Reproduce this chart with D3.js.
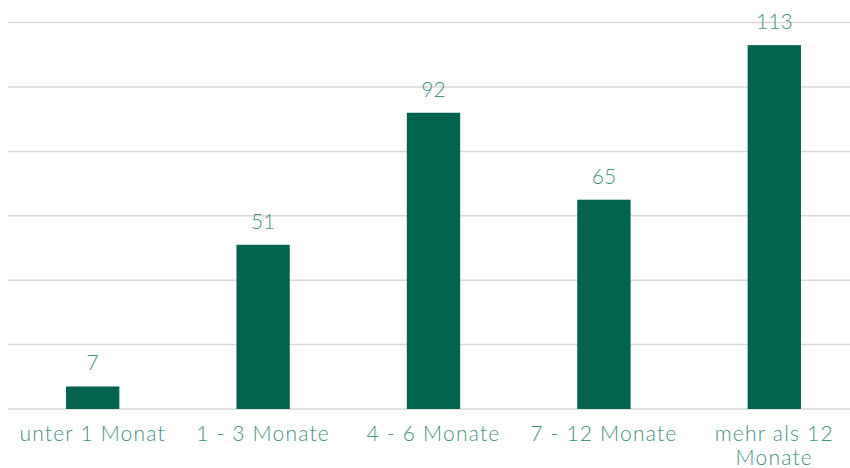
<!DOCTYPE html>
<html><head><meta charset="utf-8">
<script src="https://cdn.jsdelivr.net/npm/d3@7"></script>
<style>body{margin:0;background:#fff}svg{display:block}</style>
</head><body>
<svg id="c" width="850" height="468"></svg>
<script>
const categories = ["unter 1 Monat", "1 - 3 Monate", "4 - 6 Monate", "7 - 12 Monate", "mehr als 12 Monate"];
const values = [7, 51, 92, 65, 113];
const yTicks = [0, 20, 40, 60, 80, 100, 120];
const labelLines = [["unter 1 Monat"], ["1 - 3 Monate"], ["4 - 6 Monate"], ["7 - 12 Monate"], ["mehr als 12", "Monate"]];

const svg = d3.select("#c");
const x = d3.scaleBand().domain(categories).range([7.5, 859.5]).paddingInner(0.687).paddingOuter(0.3435);
const y = d3.scaleLinear().domain([0, 120]).range([409, 22.6]);
const font = "'Lato', 'Open Sans', sans-serif";
const textColor = "#44907f";

svg.append("g").selectAll("line").data(yTicks).join("line")
  .attr("x1", 8).attr("x2", 850)
  .attr("y1", d => y(d)).attr("y2", d => y(d))
  .attr("stroke", "#d9d9d9").attr("stroke-width", 1.5);

svg.append("g").selectAll("rect").data(values).join("rect")
  .attr("x", (d, i) => x(categories[i]))
  .attr("width", x.bandwidth())
  .attr("y", d => y(d))
  .attr("height", d => y(0) - y(d))
  .attr("fill", "#02634F");

svg.append("g").selectAll("text").data(values).join("text")
  .attr("x", (d, i) => x(categories[i]) + x.bandwidth() / 2)
  .attr("y", d => y(d) - 16)
  .attr("text-anchor", "middle")
  .attr("font-family", font).attr("font-weight", 300).attr("font-size", 21)
  .attr("fill", textColor)
  .text(d => d);

const lbl = svg.append("g").selectAll("text").data(labelLines).join("text")
  .attr("x", (d, i) => x(categories[i]) + x.bandwidth() / 2)
  .attr("y", 441)
  .attr("text-anchor", "middle")
  .attr("font-family", font).attr("font-weight", 300).attr("font-size", 21)
  .attr("letter-spacing", 1.2)
  .attr("fill", textColor);
lbl.selectAll("tspan").data(d => d).join("tspan")
  .attr("x", function() { return this.parentNode.getAttribute("x"); })
  .attr("dy", (d, j) => j === 0 ? 0 : 24)
  .text(d => d);
</script>
</body></html>
